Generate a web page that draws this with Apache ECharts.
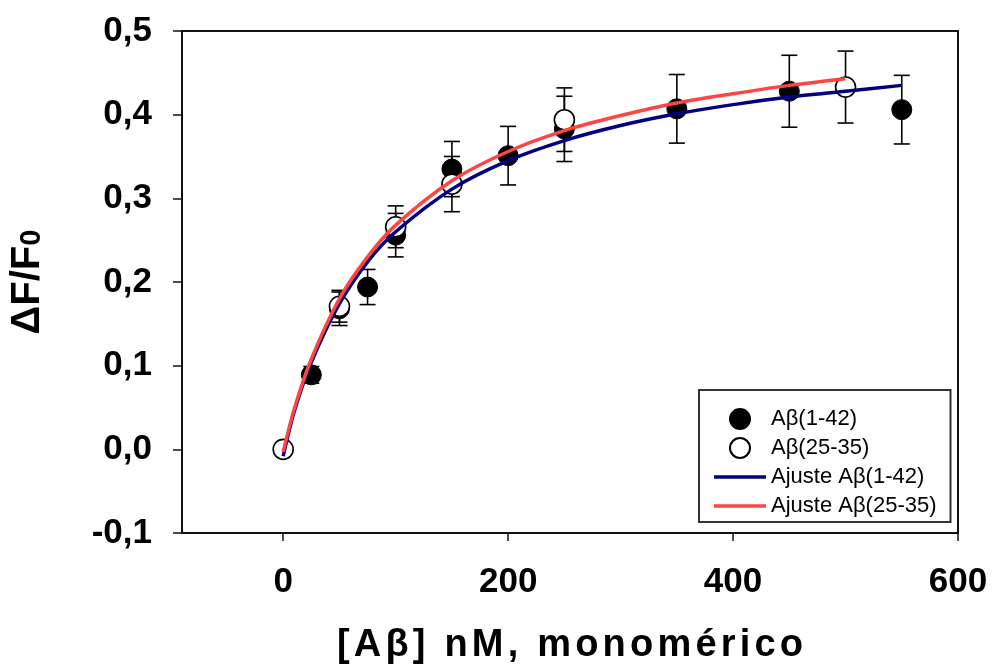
<!DOCTYPE html>
<html>
<head>
<meta charset="utf-8">
<script src="https://cdn.jsdelivr.net/npm/echarts@6/dist/echarts.min.js"></script>
<style>html,body{margin:0;padding:0;background:#fff;}#c{width:992px;height:666px;}</style>
</head>
<body>
<div id="c"></div>
<script>
// ---- data ----
const xA42 = [25, 50, 75, 100, 150, 200, 250, 350, 450, 550];
const yA42 = [0.089, 0.168, 0.194, 0.256, 0.335, 0.351, 0.383, 0.407, 0.428, 0.406];
const eA42 = [0.010, 0.020, 0.021, 0.026, 0.033, 0.035, 0.039, 0.041, 0.043, 0.041];

const xA25 = [0, 50, 100, 150, 250, 500];
const yA25 = [0.000, 0.171, 0.266, 0.317, 0.394, 0.433];
const eA25 = [0.000, 0.019, 0.025, 0.033, 0.038, 0.043];

const fitX42 = [0, 10, 25, 50, 75, 100, 150, 200, 250, 300, 350, 400, 450, 500, 550];
const fitY42 = [-0.008, 0.046, 0.104, 0.174, 0.224, 0.260, 0.311, 0.345, 0.369, 0.387, 0.401, 0.412, 0.421, 0.428, 0.435];
const fitX25 = [0, 10, 25, 50, 75, 100, 150, 200, 250, 300, 350, 400, 450, 500];
const fitY25 = [-0.003, 0.049, 0.108, 0.180, 0.230, 0.268, 0.321, 0.356, 0.381, 0.399, 0.414, 0.425, 0.435, 0.443];

const xTicks = [0, 200, 400, 600];
const names = ['A\u03B2(1-42)', 'A\u03B2(25-35)', 'Ajuste A\u03B2(1-42)', 'Ajuste A\u03B2(25-35)'];
const xTitle = '[A\u03B2] nM, monomérico';
const yTitle = '\u0394F/F';
const ySub = '0';

// ---- build ----
const zip2 = (a, b) => a.map((v, i) => [v, b[i]]);
const zip3 = (a, b, c) => a.map((v, i) => [v, b[i], c[i]]);

function errRender(params, api) {
  const x = api.value(0), y = api.value(1), e = api.value(2);
  if (!e) return null;
  const top = api.coord([x, y + e]);
  const bot = api.coord([x, y - e]);
  const hw = 8;
  const st = { stroke: '#000', lineWidth: 1.6, fill: null };
  return {
    type: 'group',
    children: [
      { type: 'line', shape: { x1: top[0], y1: top[1], x2: bot[0], y2: bot[1] }, style: st },
      { type: 'line', shape: { x1: top[0] - hw, y1: top[1], x2: top[0] + hw, y2: top[1] }, style: st },
      { type: 'line', shape: { x1: bot[0] - hw, y1: bot[1], x2: bot[0] + hw, y2: bot[1] }, style: st }
    ]
  };
}

// spaced title: each character as a rich token (text stays real text)
const chars = Array.from(xTitle);
const spacedTitle = chars.map((c, i) => '{' + (i < chars.length - 1 ? 'c' : 'e') + '|' + c + '}').join('');

const FONT = 'Liberation Sans, Arial, sans-serif';
const LINE_ICON = 'path://M0,0 L52,0 L52,3.5 L0,3.5 Z';
const chart = echarts.init(document.getElementById('c'), null, { renderer: 'canvas' });
chart.setOption({
  animation: false,
  backgroundColor: '#fff',
  grid: { left: 182, top: 31, right: 34, bottom: 133, outerBoundsMode: 'none', containLabel: false,
    show: true, borderColor: '#111', borderWidth: 2, backgroundColor: 'transparent' },
  legend: {
    orient: 'vertical', left: 699, top: 390,
    itemWidth: 52, itemHeight: 20, itemGap: 7,
    padding: [18, 14, 5, 15],
    backgroundColor: '#fff', borderColor: '#333', borderWidth: 2, borderRadius: 0,
    textStyle: { fontFamily: FONT, fontSize: 22, lineHeight: 20, color: '#000' },
    data: [
      { name: names[0] },
      { name: names[1] },
      { name: names[2], icon: LINE_ICON },
      { name: names[3], icon: LINE_ICON }
    ]
  },
  xAxis: {
    type: 'value', min: -90, max: 600,
    axisLine: { show: true, onZero: false, lineStyle: { color: '#111', width: 2 } },
    axisTick: { show: true, inside: false, length: 8, lineStyle: { color: '#111', width: 1.5 }, customValues: xTicks },
    axisLabel: { customValues: xTicks, margin: 32, fontFamily: FONT, fontSize: 35, fontWeight: 'bold', color: '#000' },
    splitLine: { show: false },
    name: spacedTitle, nameLocation: 'middle', nameGap: 94,
    nameTextStyle: { fontFamily: FONT, fontSize: 38, fontWeight: 'bold', color: '#000',
      rich: {
        c: { fontFamily: FONT, fontSize: 38, fontWeight: 'bold', color: '#000', padding: [0, 4.2, 0, 0] },
        e: { fontFamily: FONT, fontSize: 38, fontWeight: 'bold', color: '#000' }
      } }
  },
  yAxis: {
    type: 'value', min: -0.1, max: 0.5, interval: 0.1,
    axisLine: { show: true, onZero: false, lineStyle: { color: '#111', width: 2 } },
    axisTick: { show: true, inside: false, length: 9, lineStyle: { color: '#111', width: 1.5 } },
    axisLabel: { margin: 30, fontFamily: FONT, fontSize: 35, fontWeight: 'bold', color: '#000',
      formatter: v => v.toFixed(1).replace('.', ',') },
    splitLine: { show: false },
    name: '{m|' + yTitle + '}{s|' + ySub + '}', nameLocation: 'middle', nameRotate: 90, nameGap: 134,
    nameTextStyle: { fontFamily: FONT, fontSize: 40, fontWeight: 'bold', color: '#000',
      rich: {
        m: { fontFamily: FONT, fontSize: 40, fontWeight: 'bold', color: '#000' },
        s: { fontFamily: FONT, fontSize: 29, fontWeight: 'bold', color: '#000', padding: [8, 0, 0, 0] }
      } }
  },
  series: [
    { type: 'custom', name: 'errA42', renderItem: errRender, data: zip3(xA42, yA42, eA42), z: 1, silent: true, encode: { x: 0, y: 1 } },
    { type: 'custom', name: 'errA25', renderItem: errRender, data: zip3(xA25, yA25, eA25), z: 1, silent: true, encode: { x: 0, y: 1 } },
    { type: 'scatter', name: names[0], data: zip2(xA42, yA42), symbol: 'circle', symbolSize: 20, z: 2,
      itemStyle: { color: '#000', borderColor: '#000', borderWidth: 1, opacity: 1 } },
    { type: 'scatter', name: names[1], data: zip2(xA25, yA25), symbol: 'circle', symbolSize: 20, z: 3,
      itemStyle: { color: '#fff', borderColor: '#000', borderWidth: 1.6, opacity: 1 } },
    { type: 'line', name: names[2], data: zip2(fitX42, fitY42), smooth: 0.3, showSymbol: false, symbol: 'none', z: 4,
      lineStyle: { color: '#000080', width: 3.5 }, itemStyle: { color: '#000080' } },
    { type: 'line', name: names[3], data: zip2(fitX25, fitY25), smooth: 0.3, showSymbol: false, symbol: 'none', z: 5,
      lineStyle: { color: '#ff4444', width: 3.5 }, itemStyle: { color: '#ff4444' } }
  ]
});
</script>
</body>
</html>
